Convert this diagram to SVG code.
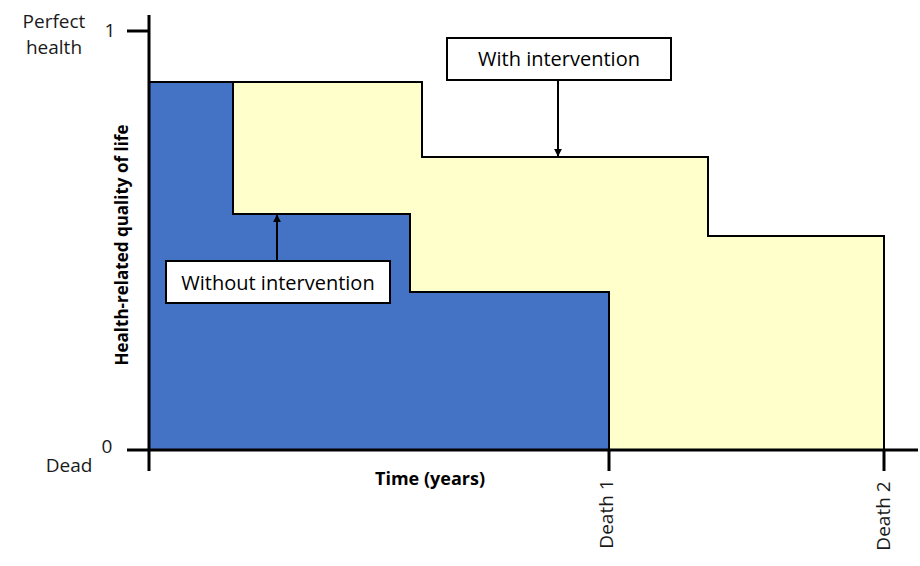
<svg xmlns="http://www.w3.org/2000/svg" width="920" height="566" viewBox="0 0 920 566">
<defs>
<style>
.t{font-family:"Open Sans","Liberation Sans",sans-serif;fill:#1a1a1a;font-size:19px}
.bx{font-family:"Open Sans","Liberation Sans",sans-serif;fill:#000;font-size:20px}
.b{font-family:"Open Sans","Liberation Sans",sans-serif;fill:#000;font-weight:bold;font-size:17px}
.box{fill:#fff;stroke:#000;stroke-width:2}
.ax{stroke:#000;stroke-width:3;fill:none}
.ln{stroke:#000;stroke-width:2;fill:none}
</style>
<marker id="ah" viewBox="0 0 10 10" refX="9" refY="5" markerWidth="4" markerHeight="4" orient="auto-start-reverse" markerUnits="strokeWidth">
<path d="M0,0 L10,5 L0,10 z" fill="#000"/>
</marker>
</defs>
<rect width="920" height="566" fill="#fff"/>
<g id="areas">
<polygon id="with" points="233,82 422,82 422,157 708,157 708,236 884,236 884,450 609,450 609,292 410,292 410,214 233,214" fill="#FFFFCC" stroke="#000" stroke-width="2"/>
<polygon id="without" points="149,82 233,82 233,214 410,214 410,292 609,292 609,450 149,450" fill="#4472C4" stroke="#000" stroke-width="2"/>
</g>
<g id="axes">
<line class="ax" x1="149" y1="15" x2="149" y2="471"/>
<line class="ax" x1="127" y1="450" x2="918" y2="450"/>
<line class="ax" x1="127" y1="31" x2="149" y2="31"/>
<line class="ax" x1="609" y1="450" x2="609" y2="471"/>
<line class="ax" x1="884" y1="450" x2="884" y2="471"/>
<text class="t" x="54" y="28" text-anchor="middle">Perfect</text>
<text class="t" x="54" y="54" text-anchor="middle">health</text>
<text class="t" x="110" y="37" text-anchor="middle">1</text>
<text class="t" x="107" y="453" text-anchor="middle">0</text>
<text class="t" x="69" y="472" text-anchor="middle">Dead</text>
<text class="b" x="430" y="485" text-anchor="middle" style="font-size:18px">Time (years)</text>
<text class="b" transform="translate(128,245) rotate(-90)" text-anchor="middle">Health-related quality of life</text>
<text class="t" transform="translate(613,514) rotate(-90)" text-anchor="middle">Death 1</text>
<text class="t" transform="translate(890,516) rotate(-90)" text-anchor="middle">Death 2</text>
</g>
<g id="connectors">
<line class="ln" x1="558" y1="80" x2="558" y2="156" marker-end="url(#ah)"/>
<line class="ln" x1="277" y1="261" x2="277" y2="215" marker-end="url(#ah)"/>
</g>
<g id="node-with">
<rect class="box" x="447" y="38" width="224" height="42"/>
<text class="bx" x="559" y="66" text-anchor="middle">With intervention</text>
</g>
<g id="node-without">
<rect class="box" x="166" y="261" width="224" height="42"/>
<text class="bx" x="278" y="290" text-anchor="middle">Without intervention</text>
</g>
</svg>
